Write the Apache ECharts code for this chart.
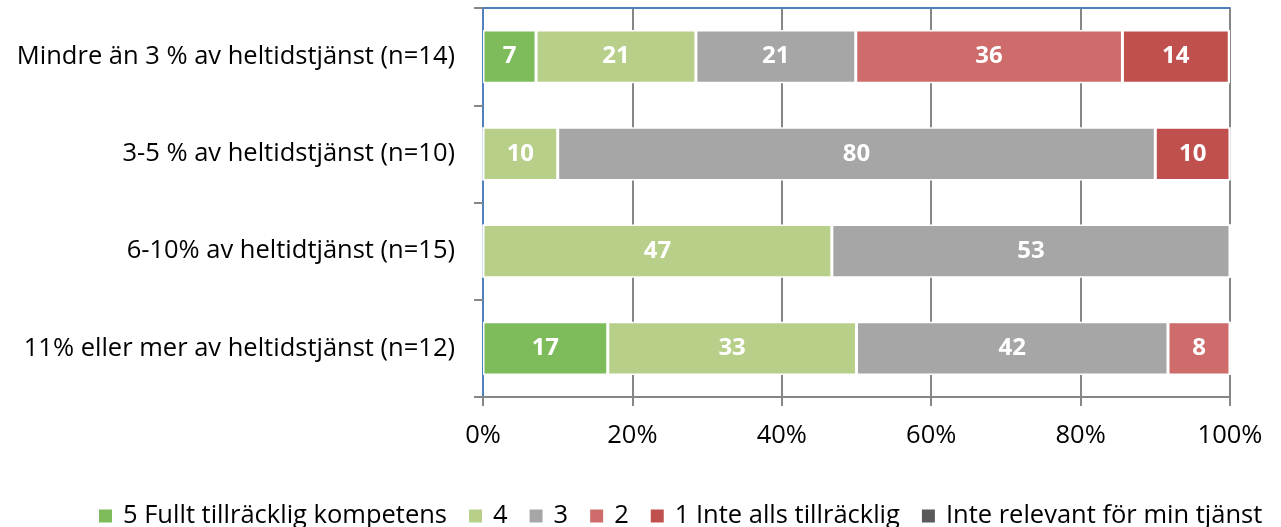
<!DOCTYPE html>
<html><head><meta charset="utf-8">
<script src="https://cdn.jsdelivr.net/npm/echarts@6/dist/echarts.min.js"></script>
<style>html,body{margin:0;padding:0;background:#fff}#c{width:1281px;height:527px}</style>
</head><body><div id="c"></div>
<script>
const categories = [
  'Mindre än 3 % av heltidstjänst (n=14)',
  '3-5 % av heltidstjänst (n=10)',
  '6-10% av heltidtjänst (n=15)',
  '11% eller mer av heltidstjänst (n=12)'
];
const seriesNames = ['5 Fullt tillräcklig kompetens', '4', '3', '2', '1 Inte alls tillräcklig', 'Inte relevant för min tjänst'];
const s5 = [7.1, 0, 0, 16.7];
const s4 = [21.4, 10, 46.7, 33.3];
const s3 = [21.4, 80, 53.3, 41.7];
const s2 = [35.7, 0, 0, 8.3];
const s1 = [14.3, 10, 0, 0];
const sNR = [0, 0, 0, 0];
const xTicks = [0, 20, 40, 60, 80, 100];
const colors = ['#7DBB5B', '#B8CF8A', '#A6A6A6', '#CD6C6B', '#C0504D', '#595959'];

const FONT = 'Open Sans';
const allData = [s5, s4, s3, s2, s1, sNR];
const chart = echarts.init(document.getElementById('c'), null, {renderer: 'canvas'});
chart.setOption({
  animation: false,
  color: colors,
  textStyle: {fontFamily: FONT},
  grid: {left: 483, right: 51, top: 8, bottom: 130, containLabel: false},
  legend: {
    left: 92, top: 498, icon: 'rect', itemWidth: 15, itemHeight: 15, itemGap: 20,
    textStyle: {fontFamily: FONT, fontSize: 25.5, color: '#000', padding: [0, 0, 0, 5]},
    data: seriesNames
  },
  xAxis: [{
    type: 'value', min: 0, max: 100, interval: 20,
    axisLine: {show: true, lineStyle: {color: '#868686', width: 2}},
    axisTick: {show: true, length: 9, lineStyle: {color: '#868686', width: 2}},
    axisLabel: {formatter: v => v + '%', fontSize: 25.5, color: '#000', margin: 26, fontFamily: FONT},
    splitLine: {show: true, lineStyle: {color: '#868686', width: 2}}
  }, {
    type: 'value', min: 0, max: 100, position: 'top',
    axisLine: {show: true, lineStyle: {color: '#4F81BD', width: 2}},
    axisTick: {show: false}, axisLabel: {show: false}, splitLine: {show: false}
  }],
  yAxis: [{
    type: 'category', data: categories, inverse: true,
    axisLine: {show: true, lineStyle: {color: '#868686', width: 2}},
    axisTick: {show: true, length: 9, lineStyle: {color: '#868686', width: 2}},
    axisLabel: {fontSize: 25.5, color: '#000', margin: 28, fontFamily: FONT}
  }, {
    type: 'category', data: categories, inverse: true, position: 'right',
    axisLine: {show: true, lineStyle: {color: '#4F81BD', width: 2}},
    axisTick: {show: false}, axisLabel: {show: false}
  }],
  series: seriesNames.map((n, i) => ({
    name: n, type: 'bar', stack: 'all', barWidth: '55%',
    data: allData[i],
    itemStyle: {color: colors[i], borderColor: '#fff', borderWidth: 1.5},
    label: {
      show: true, position: 'inside', color: '#fff', fontWeight: 'bold', fontSize: 24, fontFamily: FONT,
      formatter: p => p.value > 0 ? Math.round(p.value) : ''
    }
  }))
});
</script></body></html>
